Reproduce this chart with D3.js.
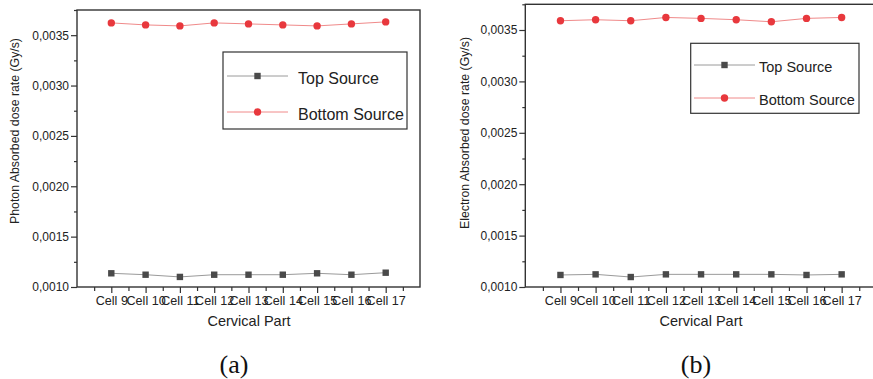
<!DOCTYPE html>
<html>
<head>
<meta charset="utf-8">
<script src="https://cdn.jsdelivr.net/npm/d3@7"></script>
<style>
    body { margin: 0; background: white; }
    svg { display: block; font-family: "Liberation Sans", sans-serif; }
</style>
</head>
<body>
<div id="graphDraw"></div>
<script>
//Data
var categories = ["Cell 9", "Cell 10", "Cell 11", "Cell 12", "Cell 13", "Cell 14", "Cell 15", "Cell 16", "Cell 17"];
var photonTop = [0.001136, 0.001122, 0.001100, 0.001122, 0.001122, 0.001122, 0.001136, 0.001122, 0.001142];
var photonBottom = [0.003622, 0.003602, 0.003592, 0.003622, 0.003612, 0.003602, 0.003592, 0.003612, 0.003632];
var electronTop = [0.001117, 0.001123, 0.001097, 0.001123, 0.001123, 0.001123, 0.001123, 0.001117, 0.001123];
var electronBottom = [0.003590, 0.003600, 0.003590, 0.003622, 0.003613, 0.003600, 0.003580, 0.003613, 0.003622];
var yTicks = [0.0010, 0.0015, 0.0020, 0.0025, 0.0030, 0.0035];
var seriesNames = ["Top Source", "Bottom Source"];

var SANS = "'Liberation Sans', sans-serif";

var svgContainer = d3.select("#graphDraw").append("svg")
    .attr("width", 873)
    .attr("height", 379);

var fmt = function (v) { return d3.format(".4f")(v).replace(".", ","); };

//one panel
function drawPanel(p) {
    var g = svgContainer.append("g");

    var x = d3.scaleLinear().domain([0, categories.length + 1]).range([p.left, p.right]);
    var y = d3.scaleLinear().domain([0.0010, 0.00375]).range([287, p.top]);

    //frame
    g.append("rect")
        .attr("x", p.left)
        .attr("y", p.top)
        .attr("width", p.right - p.left)
        .attr("height", 287 - p.top)
        .style("fill", "none")
        .style("stroke", "#333")
        .style("stroke-width", 1.4);

    //y axis
    var yAxis = d3.axisLeft(y).tickValues(yTicks).tickFormat(fmt).tickSize(6).tickPadding(2);
    var ya = g.append("g").attr("transform", "translate(" + p.left + ",0)").call(yAxis);
    ya.select(".domain").remove();
    var yMinor = d3.axisLeft(y).tickValues(yTicks.map(function (v) { return v + 0.00025; })).tickFormat("").tickSize(3);
    var ym = g.append("g").attr("transform", "translate(" + p.left + ",0)").call(yMinor);
    ym.select(".domain").remove();

    //x axis
    var xAxis = d3.axisBottom(x).tickValues(d3.range(1, categories.length + 1))
        .tickFormat(function (d) { return categories[d - 1]; }).tickSize(6).tickPadding(3);
    var xa = g.append("g").attr("transform", "translate(0,287)").call(xAxis);
    xa.select(".domain").remove();
    var xMinor = d3.axisBottom(x).tickValues(d3.range(0.5, categories.length + 1, 1)).tickFormat("").tickSize(4);
    var xm = g.append("g").attr("transform", "translate(0,287)").call(xMinor);
    xm.select(".domain").remove();

    g.selectAll("g").attr("font-family", SANS);
    g.selectAll(".tick line").style("stroke", "#333").style("stroke-width", 1.2);
    g.selectAll(".tick text").style("font-size", "12px").style("fill", "#222")
        .style("font-family", SANS);
    xa.selectAll(".tick text").style("font-size", "12.6px");

    //axis titles
    g.append("text")
        .attr("transform", "translate(" + p.ylabX + "," + p.ylabY + ") rotate(-90)")
        .attr("text-anchor", "middle")
        .attr("dominant-baseline", "central")
        .style("font-family", SANS)
        .style("font-size", "12.3px")
        .style("fill", "#222")
        .text(p.ylabel);

    g.append("text")
        .attr("x", p.xlabX)
        .attr("y", 321)
        .attr("text-anchor", "middle")
        .attr("dominant-baseline", "central")
        .style("font-family", SANS)
        .style("font-size", "14.5px")
        .style("fill", "#222")
        .text("Cervical Part");

    //lines
    var line = d3.line()
        .x(function (d, i) { return x(i + 1); })
        .y(function (d) { return y(d); });

    g.append("path").datum(p.top1)
        .attr("d", line)
        .style("fill", "none")
        .style("stroke", "#9a9a9a")
        .style("stroke-width", 1);

    g.append("path").datum(p.bottom1)
        .attr("d", line)
        .style("fill", "none")
        .style("stroke", "#f08a8a")
        .style("stroke-width", 1);

    g.selectAll(".sq").data(p.top1).enter().append("rect")
        .attr("x", function (d, i) { return x(i + 1) - 3.2; })
        .attr("y", function (d) { return y(d) - 3.2; })
        .attr("width", 6.4)
        .attr("height", 6.4)
        .style("fill", "#4a4a4a");

    g.selectAll(".dot").data(p.bottom1).enter().append("circle")
        .attr("cx", function (d, i) { return x(i + 1); })
        .attr("cy", function (d) { return y(d); })
        .attr("r", 3.7)
        .style("fill", "#e8383d");

    //legend
    var lg = p.legend;
    g.append("rect")
        .attr("x", lg.x)
        .attr("y", lg.y)
        .attr("width", lg.w)
        .attr("height", lg.h)
        .style("fill", "white")
        .style("stroke", "#333")
        .style("stroke-width", 1.2);

    seriesNames.forEach(function (name, i) {
        var cy = lg.rows[i];
        g.append("line")
            .attr("x1", lg.lx1).attr("x2", lg.lx2)
            .attr("y1", cy).attr("y2", cy)
            .style("stroke", i === 0 ? "#9a9a9a" : "#f08a8a")
            .style("stroke-width", 1);
        var mx = (lg.lx1 + lg.lx2) / 2;
        if (i === 0) {
            g.append("rect").attr("x", mx - 3.2).attr("y", cy - 3.2)
                .attr("width", 6.4).attr("height", 6.4).style("fill", "#4a4a4a");
        } else {
            g.append("circle").attr("cx", mx).attr("cy", cy).attr("r", 3.7).style("fill", "#e8383d");
        }
        g.append("text")
            .attr("x", lg.tx)
            .attr("y", cy + 2)
            .attr("dominant-baseline", "central")
            .style("font-family", SANS)
            .style("font-size", lg.fs)
            .style("fill", "#222")
            .text(name);
    });

    //sub caption
    svgContainer.append("text")
        .attr("x", p.capX)
        .attr("y", 364)
        .attr("text-anchor", "middle")
        .attr("dominant-baseline", "central")
        .style("font-family", "'Liberation Serif', serif")
        .style("font-size", "26px")
        .style("fill", "#111")
        .text(p.caption);
}

drawPanel({
    left: 77, right: 420, top: 10,
    ylabel: "Photon Absorbed dose rate (Gy/s)", ylabX: 15, ylabY: 131,
    xlabX: 249, capX: 234, caption: "(a)",
    top1: photonTop, bottom1: photonBottom,
    legend: {x: 223, y: 52, w: 184, h: 77, lx1: 227, lx2: 288, tx: 298, rows: [76, 112], fs: "16px"}
});

drawPanel({
    left: 525.3, right: 876.8, top: 4.3,
    ylabel: "Electron Absorbed dose rate (Gy/s)", ylabX: 464.5, ylabY: 133,
    xlabX: 701, capX: 696, caption: "(b)",
    top1: electronTop, bottom1: electronBottom,
    legend: {x: 690.7, y: 43.3, w: 168.3, h: 70, lx1: 694, lx2: 755, tx: 759, rows: [65, 98], fs: "14.5px"}
});
</script>
</body>
</html>
